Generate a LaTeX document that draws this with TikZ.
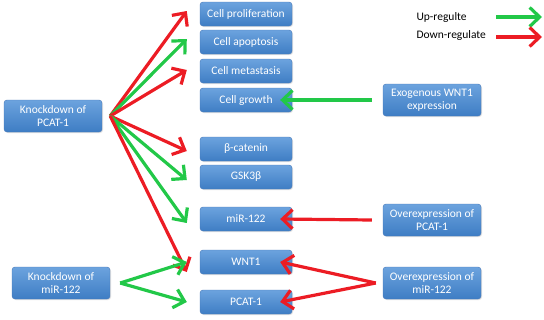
\documentclass[tikz,border=0pt]{standalone}
\usepackage{fontspec}
\setmainfont{Carlito}
\usetikzlibrary{arrows.meta,shadows}
\definecolor{upgreen}{RGB}{34,200,72}
\definecolor{downred}{RGB}{236,28,36}
\definecolor{boxtop}{RGB}{108,163,222}
\definecolor{boxbot}{RGB}{62,125,196}
\definecolor{boxline}{RGB}{70,120,185}
\tikzset{
  box/.style={draw=boxline,line width=0.4pt,rounded corners=3pt,
    top color=boxtop,bottom color=boxbot,text=white,
    font=\fontsize{11.5}{13}\selectfont,align=center,
    drop shadow={shadow xshift=1pt,shadow yshift=-1pt,opacity=0.25}},
  midbox/.style={box,minimum width=92pt,minimum height=24pt},
  sidebox/.style={box,minimum width=98pt,minimum height=32pt,inner sep=1pt},
  up/.style={upgreen,line width=3.2pt,-{Straight Barb[length=10pt,width=19pt]}},
  down/.style={downred,line width=3.2pt,-{Straight Barb[length=10pt,width=19pt]}}
}
\begin{document}
\begin{tikzpicture}[x=1pt,y=-1pt]
\useasboundingbox (0,0) rectangle (544,319);
% middle column
\node[midbox] (prol) at (246,14) {Cell proliferation};
\node[midbox] (apop) at (246,42) {Cell apoptosis};
\node[midbox] (meta) at (246,71) {Cell metastasis};
\node[midbox] (grow) at (246,100) {Cell growth};
\node[midbox] (bcat) at (246,149) {β-catenin};
\node[midbox] (gsk) at (246,177) {GSK3β};
\node[midbox] (mir) at (246,219) {miR-122};
\node[midbox] (wnt) at (246,262) {WNT1};
\node[midbox] (pcat) at (246,302) {PCAT-1};
% left and right boxes
\node[sidebox] (kdpcat) at (53,116) {Knockdown of\\PCAT-1};
\node[sidebox] (kdmir) at (61,283) {Knockdown of\\miR-122};
\node[sidebox] (exwnt) at (432,100) {Exogenous WNT1\\expression};
\node[sidebox] (ovpcat) at (432,220) {Overexpression of\\PCAT-1};
\node[sidebox] (ovmir) at (432,283) {Overexpression of\\miR-122};
% arrows
\coordinate (o1) at ([xshift=8pt]kdpcat.east);
\foreach \t/\s/\dy in {prol/down/3,apop/up/3,meta/down/1,bcat/down/-2,gsk/up/-3,mir/up/-4,wnt/down/-10}
  \draw[\s] (o1) -- ([xshift=-13pt,yshift=\dy pt]\t.west);
\coordinate (o2) at ([xshift=10pt]kdmir.east);
\draw[up] (o2) -- ([xshift=-13pt]wnt.west);
\draw[up] (o2) -- ([xshift=-13pt]pcat.west);
\draw[up] ([xshift=-11pt]exwnt.west) -- ([xshift=-12pt]grow.east);
\draw[down] ([xshift=-11pt]ovpcat.west) -- ([xshift=-12pt]mir.east);
\coordinate (o3) at ([xshift=-7pt]ovmir.west);
\draw[down] (o3) -- ([xshift=-12pt]wnt.east);
\draw[down] (o3) -- ([xshift=-12pt]pcat.east);
% legend
\node[anchor=west,font=\fontsize{11.5}{13}\selectfont] (uplbl) at (413,17) {Up-regulte};
\node[anchor=west,font=\fontsize{11.5}{13}\selectfont] (dnlbl) at (413,35) {Down-regulate};
\coordinate (l1) at (496,17);
\coordinate (l2) at (496,37);
\draw[up] (l1) -- ++(46,0);
\draw[down] (l2) -- ++(46,0);
\end{tikzpicture}
\end{document}
